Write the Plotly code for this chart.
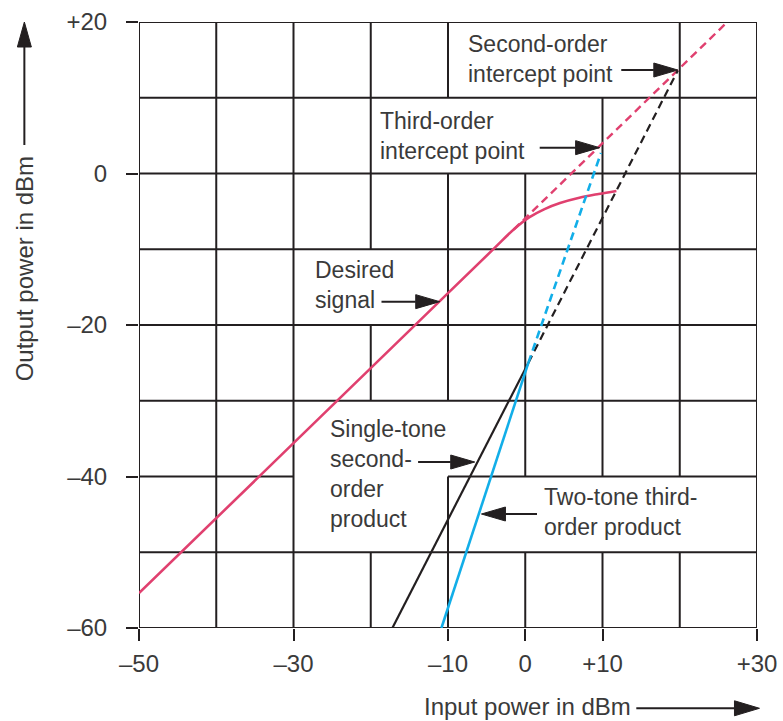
import plotly.graph_objects as go

# ---------------- data ----------------
desired_x = [-50, -30, -10, -4, -1.5, 0.5, 2.5, 4.5, 7.0, 9.5, 11.8]
desired_y = [-55.4, -35.6, -15.8, -9.86, -7.4, -5.8, -4.7, -3.9, -3.2, -2.7, -2.3]
desired_ext_x = [-1.5, 26.6]
desired_ext_y = [-7.4, 20.44]

second_x = [-17.2, 0.4]
second_y = [-60.0, -25.0]
second_ext_x = [0.4, 19.75]
second_ext_y = [-25.0, 13.6]

third_x = [-10.85, 0.4]
third_y = [-60.0, -25.0]
third_ext_x = [0.4, 9.8]
third_ext_y = [-25.0, 2.7]

x_tickvals = [-50, -30, -10, 0, 10, 30]
x_ticktext = ["\u201350", "\u201330", "\u201310", "0", "+10", "+30"]
y_tickvals = [-60, -40, -20, 0, 20]
y_ticktext = ["\u201360", "\u201340", "\u201320", "0", "+20"]

# ---------------- styling ----------------
PINK = "#e0406f"
BLUE = "#12aee8"
BLACK = "#231f20"
GRID = "#231f20"
TEXT = "#3a3a3a"
FONT = "Liberation Sans, Arial, sans-serif"
DASH = "8px,5px"

fig = go.Figure()

fig.add_trace(go.Scatter(x=desired_x, y=desired_y, mode="lines",
                         line=dict(color=PINK, width=2.6, shape="spline", smoothing=1.0)))
fig.add_trace(go.Scatter(x=desired_ext_x, y=desired_ext_y, mode="lines",
                         line=dict(color=PINK, width=2.4, dash=DASH)))
fig.add_trace(go.Scatter(x=second_x, y=second_y, mode="lines",
                         line=dict(color=BLACK, width=2.2)))
fig.add_trace(go.Scatter(x=second_ext_x, y=second_ext_y, mode="lines",
                         line=dict(color=BLACK, width=2.2, dash=DASH)))
fig.add_trace(go.Scatter(x=third_x, y=third_y, mode="lines",
                         line=dict(color=BLUE, width=2.6)))
fig.add_trace(go.Scatter(x=third_ext_x, y=third_ext_y, mode="lines",
                         line=dict(color=BLUE, width=2.6, dash=DASH)))

# ---------------- grid with blanked label boxes ----------------
vertical_segments = [
    (-50, -60, 20), (-40, -60, 20), (-30, -60, 20),
    (-20, -10, 20), (-20, -30, -20), (-20, -60, -50),
    (-10, 10, 20), (-10, -30, 0), (-10, -60, -40),
    (0, -40, 0), (0, -60, -50),
    (10, -40, 10), (10, -60, -50),
    (20, -40, 20), (20, -60, -50),
    (30, -60, 20),
]
horizontal_segments = [
    (20, -50, 30), (10, -50, 30), (0, -50, 30), (-10, -50, 30),
    (-20, -50, 30), (-30, -50, 30), (-40, -50, -30), (-40, -10, 30),
    (-50, -50, 30), (-60, -50, 30),
]
shapes = []
for xv, y0, y1 in vertical_segments:
    shapes.append(dict(type="line", xref="x", yref="y", x0=xv, x1=xv, y0=y0, y1=y1,
                       line=dict(color=GRID, width=2), layer="below"))
for yv, x0, x1 in horizontal_segments:
    shapes.append(dict(type="line", xref="x", yref="y", x0=x0, x1=x1, y0=yv, y1=yv,
                       line=dict(color=GRID, width=2), layer="below"))

# ---------------- annotation arrows (horizontal, custom heads) ----------------
PXX = 618.0 / 80.0   # px per x unit
PXY = 606.0 / 80.0   # px per y unit
HEAD_L = 24.0
HEAD_HW = 7.0

def data_arrow(x_tail, x_tip, y):
    d = 1 if x_tip > x_tail else -1
    xb = x_tip - d * HEAD_L / PXX
    hw = HEAD_HW / PXY
    shapes.append(dict(type="line", xref="x", yref="y", x0=x_tail, x1=xb, y0=y, y1=y,
                       line=dict(color=BLACK, width=2)))
    shapes.append(dict(type="path", xref="x", yref="y",
                       path=f"M {x_tip},{y} L {xb},{y + hw} L {xb},{y - hw} Z",
                       fillcolor=BLACK, line=dict(color=BLACK, width=1)))

data_arrow(12.43, 19.75, 13.66)   # second-order intercept
data_arrow(1.87, 9.63, 3.41)      # third-order intercept
data_arrow(-18.61, -11.07, -16.92)  # desired signal
data_arrow(-13.87, -6.54, -38.09)   # single-tone second-order
data_arrow(1.52, -5.67, -44.95)     # two-tone third-order

# axis-title arrows (paper coordinates)
PW, PH = 618.0, 606.0
# y arrow (pointing up)
yx = -0.1855
shapes.append(dict(type="line", xref="paper", yref="paper", x0=yx, x1=yx, y0=0.797, y1=1.0 - 25 / PH,
                   line=dict(color=BLACK, width=2)))
shapes.append(dict(type="path", xref="paper", yref="paper",
                   path=f"M {yx},1.0 L {yx - 7 / PW},{1.0 - 25 / PH} L {yx + 7 / PW},{1.0 - 25 / PH} Z",
                   fillcolor=BLACK, line=dict(color=BLACK, width=1)))
# x arrow (pointing right)
xy = -0.1325
shapes.append(dict(type="line", xref="paper", yref="paper", x0=0.8047, x1=1.004 - 25 / PW, y0=xy, y1=xy,
                   line=dict(color=BLACK, width=2)))
shapes.append(dict(type="path", xref="paper", yref="paper",
                   path=f"M 1.004,{xy} L {1.004 - 25 / PW},{xy + 7.5 / PH} L {1.004 - 25 / PW},{xy - 7.5 / PH} Z",
                   fillcolor=BLACK, line=dict(color=BLACK, width=1)))

lab_font = dict(family=FONT, size=23, color=TEXT)
annotations = [
    dict(x=-7.61, y=15.10, text="Second-order<br>intercept point"),
    dict(x=-19.05, y=4.97, text="Third-order<br>intercept point"),
    dict(x=-27.46, y=-14.75, text="Desired<br>signal"),
    dict(x=-25.52, y=-39.70, text="Single-tone<br>second-<br>order<br>product"),
    dict(x=2.16, y=-44.75, text="Two-tone third-<br>order product"),
]
for a in annotations:
    a.update(xref="x", yref="y", xanchor="left", yanchor="middle", align="left",
             showarrow=False, font=lab_font)

ax_font = dict(family=FONT, size=24, color=TEXT)
annotations.append(dict(xref="paper", yref="paper", x=0.628, y=-0.130, text="Input power in dBm",
                        showarrow=False, xanchor="center", yanchor="middle", font=ax_font))
annotations.append(dict(xref="paper", yref="paper", x=-0.1855, y=0.5924, text="Output power in dBm",
                        showarrow=False, xanchor="center", yanchor="middle", textangle=-90, font=ax_font))

fig.update_layout(
    width=783, height=721,
    margin=dict(l=139, r=26, t=22, b=93),
    paper_bgcolor="white", plot_bgcolor="white",
    showlegend=False,
    shapes=shapes,
    annotations=annotations,
    xaxis=dict(range=[-50, 30], tickvals=x_tickvals, ticktext=x_ticktext,
               ticks="outside", ticklen=12, tickwidth=2, tickcolor=BLACK,
               showgrid=False, zeroline=False, showline=False, fixedrange=True,
               automargin=False,
               tickfont=dict(family=FONT, size=24, color=TEXT), ticklabelstandoff=2),
    yaxis=dict(range=[-60, 20], tickvals=y_tickvals, ticktext=y_ticktext,
               ticks="outside", ticklen=12, tickwidth=2, tickcolor=BLACK,
               showgrid=False, zeroline=False, showline=False, fixedrange=True,
               automargin=False,
               tickfont=dict(family=FONT, size=24, color=TEXT), ticklabelstandoff=14),
)

fig.write_html("out.html",
               config={"displayModeBar": False},
               post_script="document.body.style.margin='0';document.body.style.overflow='hidden';")
